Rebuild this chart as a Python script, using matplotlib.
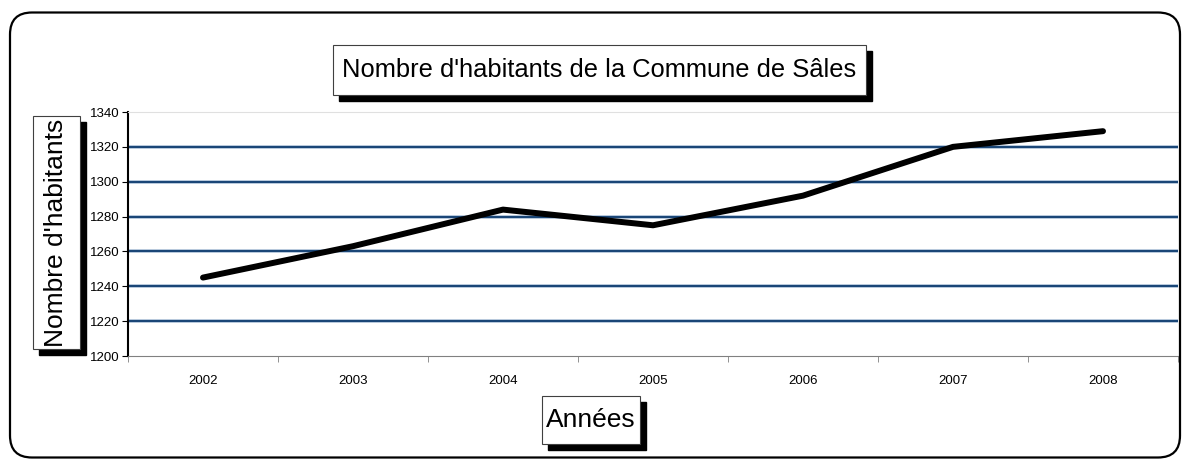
import numpy as np
import matplotlib.pyplot as plt
from matplotlib.patches import FancyBboxPatch, Rectangle

# data
annees = ["2002", "2003", "2004", "2005", "2006", "2007", "2008"]
habitants = [1245, 1263, 1284, 1275, 1292, 1320, 1329]
y_ticks = [1200, 1220, 1240, 1260, 1280, 1300, 1320, 1340]

plt.rcParams['font.family'] = ['Liberation Sans', 'DejaVu Sans']

W, H = 1183, 461
fig = plt.figure(figsize=(W / 100, H / 100), dpi=100)
ax = fig.add_axes([128 / W, 1 - 356 / H, 1050 / W, 244 / H])

x = np.arange(len(annees))
ax.plot(x, habitants, color="black", lw=4.3, solid_capstyle="round",
        solid_joinstyle="round", zorder=3)

ax.set_xlim(-0.5, len(annees) - 0.5)
ax.set_ylim(1200, 1340)
ax.set_yticks(y_ticks)
ax.set_yticklabels([str(v) for v in y_ticks], fontsize=9.5)
ax.set_xticks(x)
ax.set_xticklabels(annees, fontsize=9.5)
ax.set_xticks(np.arange(len(annees) + 1) - 0.5, minor=True)
ax.tick_params(axis="x", which="major", length=0, pad=14)
ax.tick_params(axis="x", which="minor", length=4, color="#808080", direction="out")
ax.tick_params(axis="y", length=4, color="black", direction="out", pad=2)

for v in y_ticks[1:-1]:
    ax.axhline(v, color="#a8bcd4", lw=2.6, zorder=1)
    ax.axhline(v, color="#0b3a6e", lw=1.3, zorder=2)

ax.spines["right"].set_visible(False)
ax.spines["top"].set_color("#e0e0e0")
ax.spines["bottom"].set_color("#808080")
ax.spines["left"].set_color("black")
ax.spines["left"].set_linewidth(1.5)


def px_box(x0, y0, x1, y1, text, rotation=0, size=19, shadow=6):
    # box in pixel coords (top-left origin) with a black drop shadow
    fx = lambda v: v / W
    fy = lambda v: 1 - v / H
    fig.patches.append(Rectangle((fx(x0 + shadow), fy(y1 + shadow)), (x1 - x0) / W,
                                 (y1 - y0) / H, transform=fig.transFigure,
                                 facecolor="black", edgecolor="black", zorder=5))
    fig.patches.append(Rectangle((fx(x0), fy(y1)), (x1 - x0) / W, (y1 - y0) / H,
                                 transform=fig.transFigure, facecolor="white",
                                 edgecolor="#404040", lw=0.8, zorder=6))
    fig.text(fx((x0 + x1) / 2), fy((y0 + y1) / 2), text, ha="center", va="center",
             rotation=rotation, fontsize=size, zorder=7)


px_box(333, 45, 866, 95, "Nombre d'habitants de la Commune de Sâles", size=18.4)
px_box(33, 116, 80, 349, "Nombre d'habitants", rotation=90)
px_box(542, 396, 640, 444, "Années")

frame = FancyBboxPatch((0.10, 0.035), 11.70, 4.45, boxstyle="round,pad=0,rounding_size=0.22",
                       transform=fig.dpi_scale_trans, facecolor="none",
                       edgecolor="black", lw=1.6)
fig.patches.append(frame)

fig.savefig("out.png", dpi=100)
